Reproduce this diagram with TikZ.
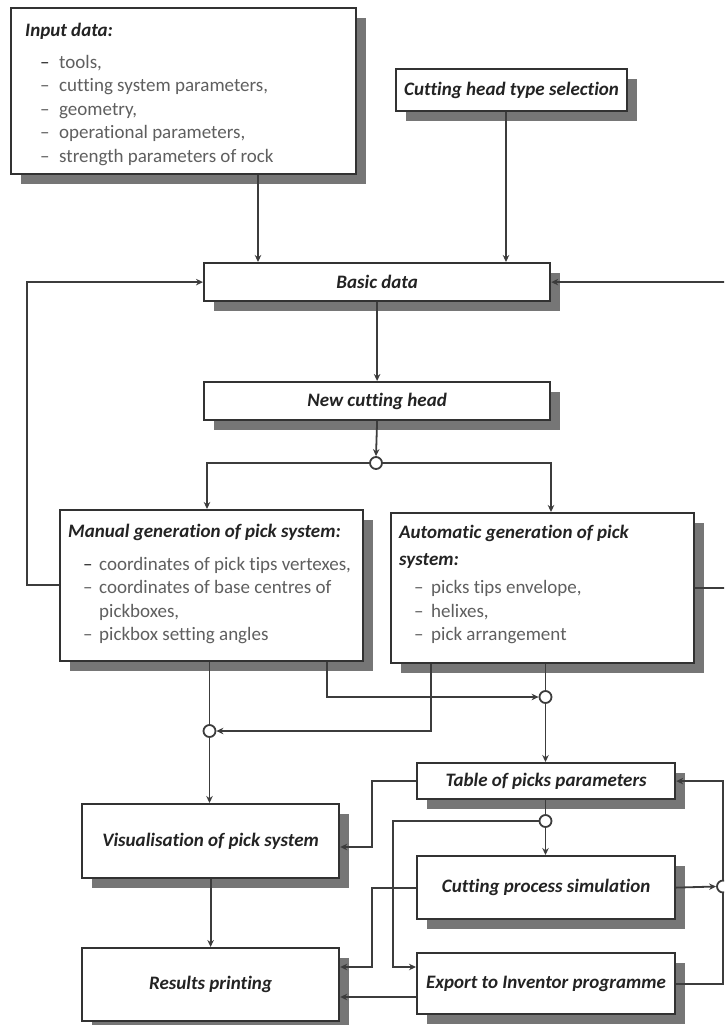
\documentclass[tikz,border=0pt]{standalone}
\usepackage{fontspec}
\setmainfont{Carlito}[Ligatures=NoCommon]
\usetikzlibrary{arrows.meta,shadows}
\definecolor{edge}{RGB}{50,50,50}
\definecolor{wirec}{RGB}{60,60,60}
\definecolor{shade}{RGB}{118,118,118}
\definecolor{head}{RGB}{35,35,35}
\definecolor{body}{RGB}{95,95,95}
\newcommand{\ttl}[1]{{\color{head}\bfseries\itshape #1}}
\newcommand{\itm}[2][17pt]{\hspace*{15pt}\makebox[#1][l]{--}#2}
\newcommand{\itmd}[2][17pt]{\hspace*{15pt}\makebox[#1][l]{\color{head}--}#2}
\begin{document}
\begin{tikzpicture}[x=1pt,y=-1pt,
  box/.style={draw=edge, line width=2.2pt, fill=white, rectangle, inner sep=0pt,
    anchor=north west,
    drop shadow={shadow xshift=10pt, shadow yshift=-10pt, fill=shade, opacity=1}},
  caption/.style={font=\fontsize{19}{23}\selectfont\bfseries\itshape, text=head},
  listtext/.style={anchor=north west, inner sep=0pt,
    font=\fontsize{19}{23.5}\selectfont, text=body},
  wire/.style={draw=wirec, line width=1.8pt},
  arr/.style={wire, -{Stealth[length=7pt,width=6.5pt]}},
  junc/.style={circle, draw=wirec, line width=1.8pt, fill=white,
    minimum size=12pt, inner sep=0pt}
]
\useasboundingbox (0,0) rectangle (724,1025);
\clip (0,0) rectangle (724,1025);

% ---- boxes ----
\node[box, minimum width=345pt, minimum height=166pt] (inp) at (10,7) {};
\node[listtext] (inpT) at (25,20) {\begin{tabular}[t]{@{}l@{}}
  \ttl{Input data:}\\[8pt]
  \itmd[19pt]{tools,}\\
  \itm[19pt]{cutting system parameters,}\\
  \itm[19pt]{geometry,}\\
  \itm[19pt]{operational parameters,}\\
  \itm[19pt]{strength parameters of rock}
\end{tabular}};

\node[box, caption, minimum width=231pt, minimum height=42pt] (sel) at (395,68)
  {Cutting head type selection};

\node[box, caption, minimum width=346pt, minimum height=38pt] (basic) at (203,262)
  {Basic data};

\node[box, caption, minimum width=346pt, minimum height=38pt] (newh) at (203,381)
  {New cutting head};

\node[box, minimum width=303pt, minimum height=151pt] (man) at (59,509) {};
\node[listtext] (manT) at (68,521) {\begin{tabular}[t]{@{}l@{}}
  \ttl{Manual generation of pick system:}\\[9pt]
  \itmd[16pt]{coordinates of pick tips vertexes,}\\
  \itm[16pt]{coordinates of base centres of}\\
  \hspace*{31pt}pickboxes,\\
  \itm[16pt]{pickbox setting angles}
\end{tabular}};

\node[box, minimum width=303pt, minimum height=150pt] (aut) at (390,512) {};
\node[listtext] (autT) at (399,522) {\begin{tabular}[t]{@{}l@{}}
  \ttl{Automatic generation of pick}\\[3pt]
  \ttl{system:}\\[5pt]
  \itm{picks tips envelope,}\\
  \itm{helixes,}\\
  \itm{pick arrangement}
\end{tabular}};

\node[box, caption, minimum width=258pt, minimum height=36pt] (tab) at (416,762)
  {Table of picks parameters};
\node[box, caption, minimum width=257pt, minimum height=74pt] (vis) at (81,803)
  {Visualisation of pick system};
\node[box, caption, minimum width=257pt, minimum height=73pt] (res) at (81,947)
  {Results printing};
\node[box, caption, minimum width=258pt, minimum height=63pt] (sim) at (416,855)
  {Cutting process simulation};
\node[box, caption, minimum width=258pt, minimum height=61pt] (exp) at (416,952)
  {Export to Inventor programme};

% ---- junction points ----
\node[junc] (j1) at (376,463) {};
\node[junc] (j2) at (209.5,731) {};
\node[junc] (j3) at (545.5,697) {};
\node[junc] (j4) at (545.5,821) {};
\node[junc] (j5) at (723,886.5) {};

% ---- routing guides ----
\coordinate (xIn) at (258,0);
\coordinate (xSel) at (506,0);
\coordinate (xL) at (207,0);
\coordinate (xR) at (551,0);
\coordinate (yFbL) at (0,585);
\coordinate (xFbL) at (27,0);
\coordinate (yFbR) at (0,588);
\coordinate (xFbR) at (728,0);
\coordinate (xM2) at (327,0);
\coordinate (xA2) at (431,0);
\coordinate (xB) at (372,0);
\coordinate (yV) at (0,847);
\coordinate (xC) at (393,0);
\coordinate (yR1) at (0,967);
\coordinate (yR2) at (0,997);

% ---- connectors ----
\draw[arr] (inp.south -| xIn) -- (basic.north -| xIn);
\draw[arr] (sel.south -| xSel) -- (basic.north -| xSel);
\draw[arr] (basic.south) -- (newh.north);
\draw[arr] (newh.south) -- (j1.north);
\draw[arr] (j1.west) -| (man.north -| xL);
\draw[arr] (j1.east) -| (aut.north -| xR);
\draw[arr] (man.west |- yFbL) -| (xFbL |- basic.west) -- (basic.west);
\draw[arr] (aut.east |- yFbR) -| (xFbR |- basic.east) -- (basic.east);
\draw[wire] (man.south -| j2) -- (j2.north);
\draw[arr] (man.south -| xM2) |- (j3.west);
\draw[wire] (aut.south -| j3) -- (j3.north);
\draw[arr] (aut.south -| xA2) |- (j2.east);
\draw[arr] (j2.south) -- (vis.north -| j2);
\draw[arr] (j3.south) -- (tab.north -| j3);
\draw[arr] (tab.west) -| (xB |- yV) -- (vis.east |- yV);
\draw[arr] (vis.south) -- (res.north);
\draw[wire] (tab.south -| j4) -- (j4.north);
\draw[arr] (j4.south) -- (sim.north -| j4);
\draw[arr] (j4.west) -| (xC |- yR1) -- (exp.west |- yR1);
\draw[arr] (sim.west) -| (xB |- yR1) -- (res.east |- yR1);
\draw[arr] (exp.west |- yR2) -- (res.east |- yR2);
\draw[arr] (sim.east) -- (j5.west);
\draw[wire] (exp.east) -| (j5.south);
\draw[arr] (j5.north) |- (tab.east);
\end{tikzpicture}
\end{document}
